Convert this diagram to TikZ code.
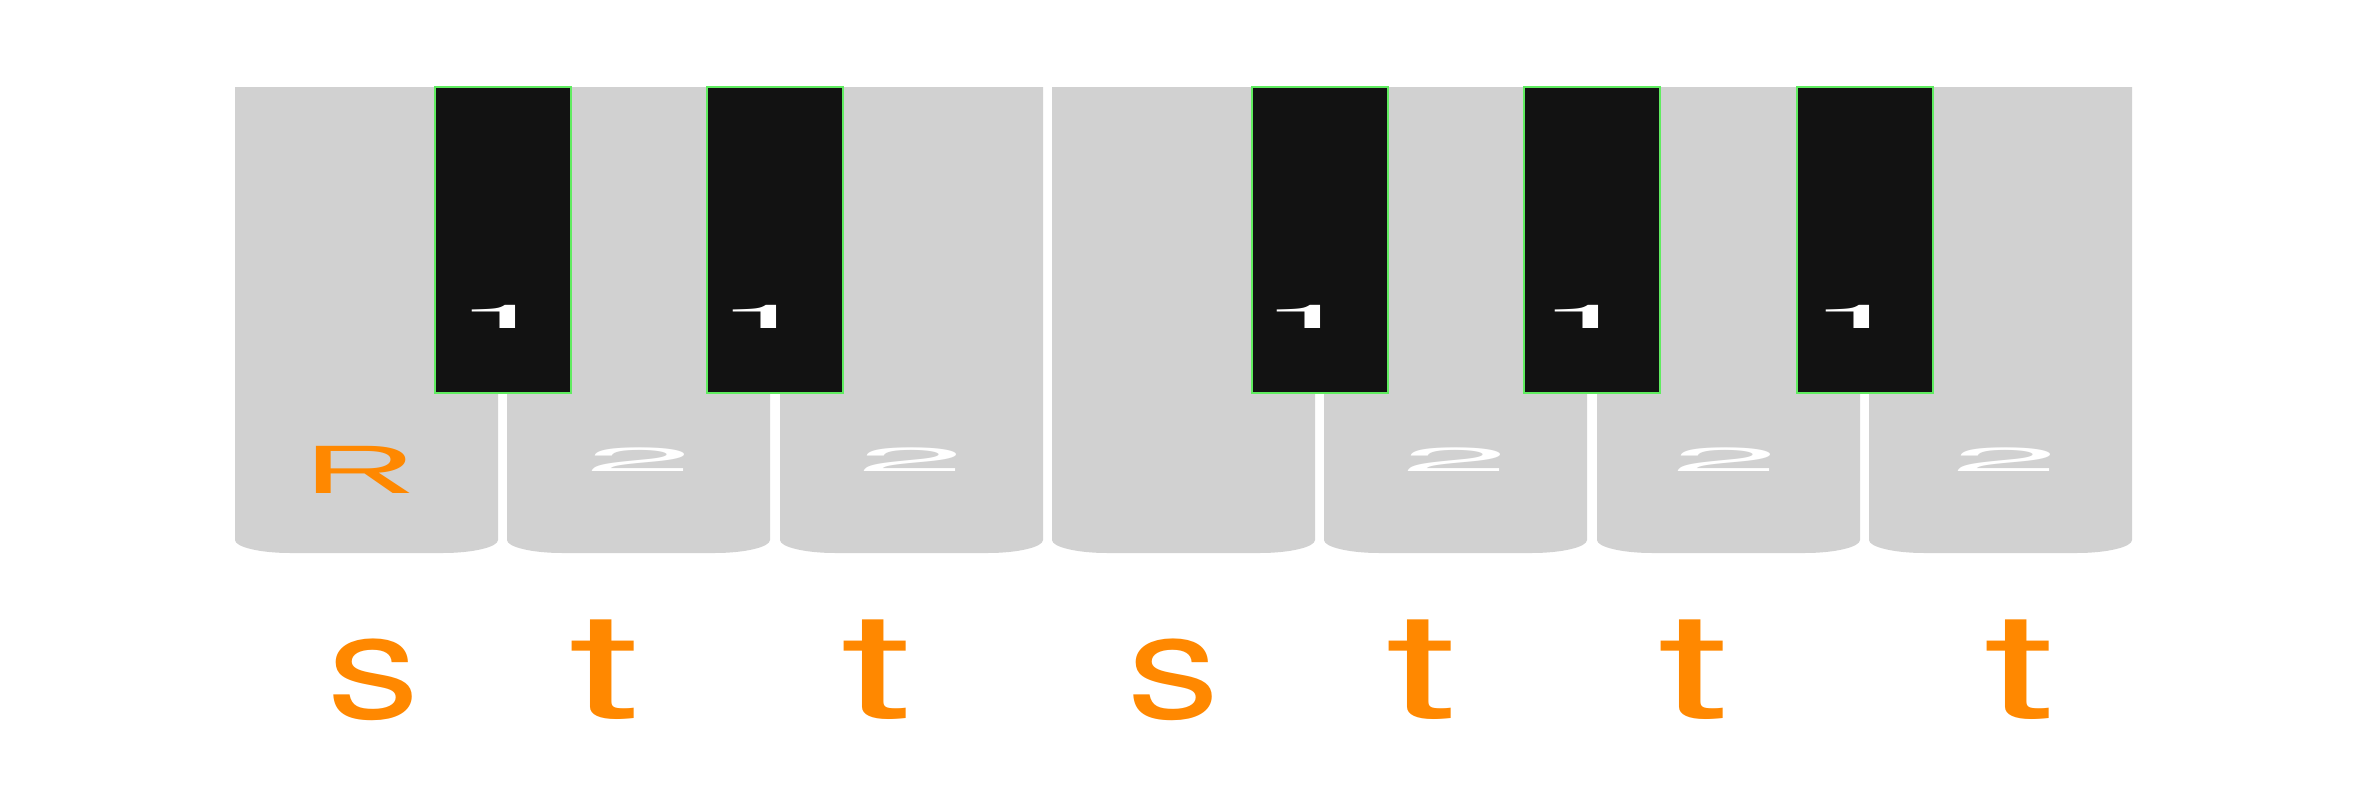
\documentclass[tikz,border=0pt]{standalone}
\usepackage{fontspec}
\setmainfont{TeX Gyre Heros}
\newfontfamily\rootfont{Liberation Sans}
\definecolor{keygray}{RGB}{209,209,209}
\definecolor{keyblack}{RGB}{18,18,18}
\definecolor{keygreen}{RGB}{96,236,96}
\definecolor{noteorange}{RGB}{255,136,0}
\newcommand{\wide}[2]{\scalebox{#1}[1]{#2}}
\tikzset{
  whitekey/.style={fill=keygray},
  blackkey/.style={fill=keyblack, draw=keygreen, line width=0.6pt},
  fingerlab/.style={text=white, inner sep=0pt, anchor=base, font=\fontsize{9.3}{10}\selectfont},
  twolab/.style={text=white, inner sep=0pt, anchor=base, font=\fontsize{9.5}{10}\selectfont},
  rootlab/.style={text=noteorange, inner sep=0pt, anchor=base, font=\rootfont\fontsize{19.5}{22}\selectfont},
  steplab/.style={text=noteorange, inner sep=0pt, anchor=base, font=\fontsize{42}{48}\selectfont}
}
\begin{document}
\begin{tikzpicture}[x=0.01cm, y=-0.01cm]
\fill[white] (0,0) rectangle (2372,803);
\useasboundingbox (0,0) rectangle (2372,803);
\fill[whitekey] (235,87) -- (235,540) .. controls (235,547) and (260,553) .. (290,553) -- (443,553) .. controls (473,553) and (498,547) .. (498,540) -- (498,87) -- cycle;
\fill[whitekey] (507,87) -- (507,540) .. controls (507,547) and (532,553) .. (562,553) -- (715,553) .. controls (745,553) and (770,547) .. (770,540) -- (770,87) -- cycle;
\fill[whitekey] (780,87) -- (780,540) .. controls (780,547) and (805,553) .. (835,553) -- (988,553) .. controls (1018,553) and (1043,547) .. (1043,540) -- (1043,87) -- cycle;
\fill[whitekey] (1052,87) -- (1052,540) .. controls (1052,547) and (1077,553) .. (1107,553) -- (1260,553) .. controls (1290,553) and (1315,547) .. (1315,540) -- (1315,87) -- cycle;
\fill[whitekey] (1324,87) -- (1324,540) .. controls (1324,547) and (1349,553) .. (1379,553) -- (1532,553) .. controls (1562,553) and (1587,547) .. (1587,540) -- (1587,87) -- cycle;
\fill[whitekey] (1597,87) -- (1597,540) .. controls (1597,547) and (1622,553) .. (1652,553) -- (1805,553) .. controls (1835,553) and (1860,547) .. (1860,540) -- (1860,87) -- cycle;
\fill[whitekey] (1869,87) -- (1869,540) .. controls (1869,547) and (1894,553) .. (1924,553) -- (2077,553) .. controls (2107,553) and (2132,547) .. (2132,540) -- (2132,87) -- cycle;
\filldraw[blackkey] (435,87) rectangle (571,393);
\filldraw[blackkey] (707,87) rectangle (843,393);
\filldraw[blackkey] (1252,87) rectangle (1388,393);
\filldraw[blackkey] (1524,87) rectangle (1660,393);
\filldraw[blackkey] (1797,87) rectangle (1933,393);
\draw (503,328) node[fingerlab] (b1) {\wide{5.4}{1}};
\draw (764,328) node[fingerlab] (b2) {\wide{5.4}{1}};
\draw (1308,328) node[fingerlab] (b3) {\wide{5.4}{1}};
\draw (1586,328) node[fingerlab] (b4) {\wide{5.4}{1}};
\draw (1857,328) node[fingerlab] (b5) {\wide{5.4}{1}};
\draw (360,493) node[rootlab] (w1) {\wide{2.3}{R}};
\draw (639,471) node[twolab] (w2) {\wide{5.8}{2}};
\draw (911,471) node[twolab] (w3) {\wide{5.8}{2}};
\draw (1455,471) node[twolab] (w5) {\wide{5.8}{2}};
\draw (1725,471) node[twolab] (w6) {\wide{5.8}{2}};
\draw (2005,471) node[twolab] (w7) {\wide{5.8}{2}};
\draw (374,718) node[steplab] (l1) {\wide{1.25}{s}};
\draw (604,718) node[steplab] (l2) {\wide{1.75}{t}};
\draw (876,718) node[steplab] (l3) {\wide{1.75}{t}};
\draw (1174,718) node[steplab] (l4) {\wide{1.25}{s}};
\draw (1421,718) node[steplab] (l5) {\wide{1.75}{t}};
\draw (1693,718) node[steplab] (l6) {\wide{1.75}{t}};
\draw (2019,718) node[steplab] (l7) {\wide{1.75}{t}};
\end{tikzpicture}
\end{document}
